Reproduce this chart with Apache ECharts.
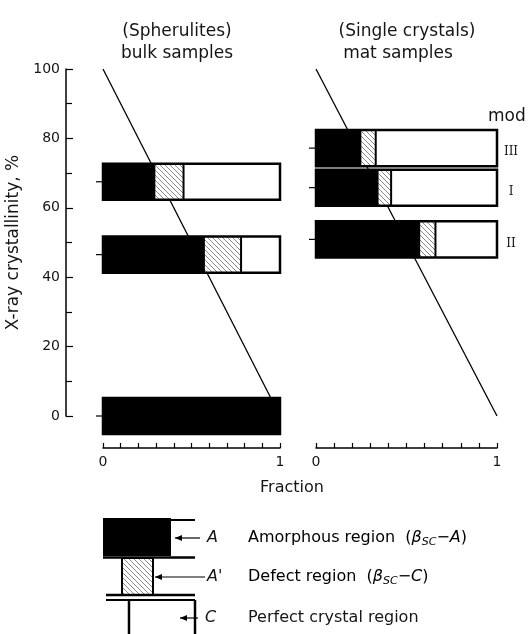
<!DOCTYPE html>
<html>
<head>
<meta charset="utf-8">
<script src="https://cdn.jsdelivr.net/npm/echarts@6/dist/echarts.min.js"></script>
<style>html,body{margin:0;padding:0;background:#fff}#c{width:531px;height:634px}</style>
</head>
<body>
<div id="c"></div>
<script>
// ---- data ----
const yTicks = [0, 20, 40, 60, 80, 100];
const xTickLabels = ['0', '1'];
// bulk (spherulite) samples: crystallinity (%), end of amorphous fraction, end of defect fraction
const bulkCrystallinity = [67.5, 46.5, 0];
const bulkAmorphousEnd = [0.29, 0.57, 1.0];
const bulkDefectEnd = [0.455, 0.78, 1.0];
// mat (single crystal) samples
const matCrystallinity = [77.2, 65.8, 50.9];
const matAmorphousEnd = [0.245, 0.34, 0.57];
const matDefectEnd = [0.33, 0.415, 0.66];
const matModes = ['III', 'I', 'II'];
// reference line: crystallinity = 100 * (1 - amorphous fraction)
const refLine = [[0, 100], [1, 0]];

// ---- style ----
const FONT = "'DejaVu Sans', sans-serif";
const INK = '#151515';
const BAR_HALF = 5.2;

const pc = document.createElement('canvas');
pc.width = 5; pc.height = 5;
const g = pc.getContext('2d');
g.fillStyle = '#fff'; g.fillRect(0, 0, 5, 5);
g.strokeStyle = '#7a7a7a'; g.lineWidth = 0.9;
g.beginPath(); g.moveTo(-1, -1); g.lineTo(6, 6); g.stroke();
const hatch = { type: 'pattern', image: pc, repeat: 'repeat' };

function renderBar(params, api) {
  const y = api.value(0), a = api.value(1), d = api.value(2);
  const tl = api.coord([0, y + BAR_HALF]);
  const br = api.coord([1, y - BAR_HALF]);
  const xa = api.coord([a, y])[0];
  const xd = api.coord([d, y])[0];
  const yc = api.coord([0, y])[1];
  const x0 = tl[0], top = tl[1], x1 = br[0], H = br[1] - tl[1];
  const ch = [];
  ch.push({ type: 'rect', shape: { x: x0, y: top, width: x1 - x0, height: H }, style: { fill: '#fff' } });
  if (xd > xa) ch.push({ type: 'rect', shape: { x: xa, y: top, width: xd - xa, height: H }, style: { fill: hatch } });
  ch.push({ type: 'rect', shape: { x: x0, y: top, width: xa - x0, height: H }, style: { fill: '#000' } });
  if (xa < x1) ch.push({ type: 'line', shape: { x1: xa, y1: top, x2: xa, y2: top + H }, style: { stroke: '#000', lineWidth: 2 } });
  if (xd < x1 && xd > xa) ch.push({ type: 'line', shape: { x1: xd, y1: top, x2: xd, y2: top + H }, style: { stroke: '#000', lineWidth: 2 } });
  ch.push({ type: 'rect', shape: { x: x0, y: top, width: x1 - x0, height: H }, style: { fill: null, stroke: '#000', lineWidth: 2.5 } });
  ch.push({ type: 'line', shape: { x1: x0 - 7, y1: yc, x2: x0 - 1, y2: yc }, style: { stroke: '#000', lineWidth: 1.2 } });
  return { type: 'group', children: ch };
}

function xAxisCfg(gi) {
  return {
    gridIndex: gi, type: 'value', min: 0, max: 1, interval: 1, offset: 32,
    axisLine: { show: true, onZero: false, lineStyle: { color: '#000', width: 1.5 } },
    axisTick: { show: true, inside: true, length: 5, lineStyle: { color: '#000', width: 1.2 } },
    minorTick: { show: true, splitNumber: 10, length: 5, lineStyle: { color: '#000', width: 1.2 } },
    axisLabel: { show: true, margin: 7, color: INK, fontFamily: FONT, fontSize: 14,
      formatter: v => (v === 0 ? xTickLabels[0] : v === 1 ? xTickLabels[1] : '') },
    splitLine: { show: false }, minorSplitLine: { show: false }
  };
}

const chart = echarts.init(document.getElementById('c'), null, { renderer: 'canvas' });
chart.setOption({
  backgroundColor: '#fff',
  animation: false,
  grid: [
    { left: 103, width: 177, top: 69, bottom: 218 },
    { left: 316, width: 181, top: 69, bottom: 218 }
  ],
  xAxis: [xAxisCfg(0), xAxisCfg(1)],
  yAxis: [
    {
      gridIndex: 0, type: 'value', min: yTicks[0], max: yTicks[yTicks.length - 1], interval: 20, offset: 37,
      name: 'X-ray crystallinity, %', nameLocation: 'middle', nameGap: 44, nameRotate: 90,
      nameTextStyle: { color: INK, fontFamily: FONT, fontSize: 17 },
      axisLine: { show: true, onZero: false, lineStyle: { color: '#000', width: 1.5 } },
      axisTick: { show: true, inside: true, length: 7, lineStyle: { color: '#000', width: 1.2 } },
      minorTick: { show: true, splitNumber: 2, length: 6, lineStyle: { color: '#000', width: 1.2 } },
      axisLabel: { margin: 6, color: INK, fontFamily: FONT, fontSize: 14 },
      splitLine: { show: false }, minorSplitLine: { show: false }
    },
    { gridIndex: 1, type: 'value', min: 0, max: 100, interval: 20, show: false }
  ],
  series: [
    { type: 'line', xAxisIndex: 0, yAxisIndex: 0, data: refLine, symbol: 'none', z: 1,
      lineStyle: { color: '#000', width: 1.3 } },
    { type: 'line', xAxisIndex: 1, yAxisIndex: 1, data: refLine, symbol: 'none', z: 1,
      lineStyle: { color: '#000', width: 1.3 } },
    { type: 'custom', xAxisIndex: 0, yAxisIndex: 0, z: 3, renderItem: renderBar, clip: false,
      data: bulkCrystallinity.map((c, i) => [c, bulkAmorphousEnd[i], bulkDefectEnd[i]]) },
    { type: 'custom', xAxisIndex: 1, yAxisIndex: 1, z: 3, renderItem: renderBar, clip: false,
      data: matCrystallinity.map((c, i) => [c, matAmorphousEnd[i], matDefectEnd[i]]) }
  ]
});

function placeText() {
  const els = [];
  const txt = (x, y, t, o) => Object.assign({ type: 'text', x, y, silent: true,
    style: Object.assign({ text: t, font: '17px ' + FONT, fill: INK, align: 'center', verticalAlign: 'middle' }, o || {}) });
  els.push(txt(177, 32, '(Spherulites)'));
  els.push(txt(177, 54, 'bulk samples'));
  els.push(txt(407, 32, '(Single crystals)'));
  els.push(txt(398, 54, 'mat samples'));
  els.push(txt(488, 117, 'mod', { align: 'left' }));
  els.push(txt(292, 488, 'Fraction', { font: '16px ' + FONT }));
  // mode labels placed next to the right-hand bars via the axis scale
  matModes.forEach((m, i) => {
    const p = chart.convertToPixel({ gridIndex: 1 }, [1, matCrystallinity[i]]);
    els.push(txt(p[0] + 14, p[1] + 4, m, { font: '12px ' + "'DejaVu Serif', serif" }));
  });
  // legend key
  const L = (x1, y1, x2, y2, w) => ({ type: 'line', silent: true, shape: { x1, y1, x2, y2 }, style: { stroke: '#000', lineWidth: w || 2 } });
  els.push({ type: 'rect', shape: { x: 103, y: 518, width: 68, height: 38 }, style: { fill: '#000' } });
  els.push(L(171, 520, 195, 520, 2));
  els.push(L(103, 557.5, 195, 557.5, 2.5));
  els.push({ type: 'rect', shape: { x: 122, y: 558, width: 31, height: 37 }, style: { fill: hatch, stroke: '#000', lineWidth: 2 } });
  els.push(L(106, 595, 195, 595, 2.5));
  els.push(L(106, 600, 195, 600, 2));
  els.push(L(129, 600, 129, 640, 2.5));
  els.push(L(195, 600, 195, 640, 2.5));
  const arrow = (xt, xe, y) => [
    L(xt, y, xe, y, 1.2),
    { type: 'polygon', shape: { points: [[xt, y], [xt + 7, y - 3], [xt + 7, y + 3]] }, style: { fill: '#000' } }
  ];
  els.push(...arrow(175, 200, 538));
  els.push(...arrow(155, 205, 577));
  els.push(...arrow(180, 198, 618));
  const it = { font: 'italic 16px ' + FONT, align: 'left' };
  els.push(txt(207, 538, 'A', it));
  els.push(txt(207, 577, "A'", it));
  els.push(txt(205, 618, 'C', it));
  const rich = {
    t: { fontFamily: FONT, fontSize: 16, color: INK, lineHeight: 20 },
    b: { fontFamily: FONT, fontSize: 16, fontStyle: 'italic', color: INK, lineHeight: 20 },
    s: { fontFamily: FONT, fontSize: 11, fontStyle: 'italic', color: INK, lineHeight: 12, verticalAlign: 'bottom' }
  };
  els.push({ type: 'text', x: 248, y: 538, silent: true, style: { text: '{t|Amorphous region  (}{b|β}{s|SC}{t|−}{b|A}{t|)}', rich, verticalAlign: 'middle', align: 'left' } });
  els.push({ type: 'text', x: 248, y: 577, silent: true, style: { text: '{t|Defect region  (}{b|β}{s|SC}{t|−}{b|C}{t|)}', rich, verticalAlign: 'middle', align: 'left' } });
  els.push(txt(248, 618, 'Perfect crystal region', { font: '16px ' + FONT, align: 'left' }));
  chart.setOption({ graphic: { elements: els } });
}
placeText();
</script>
</body>
</html>
